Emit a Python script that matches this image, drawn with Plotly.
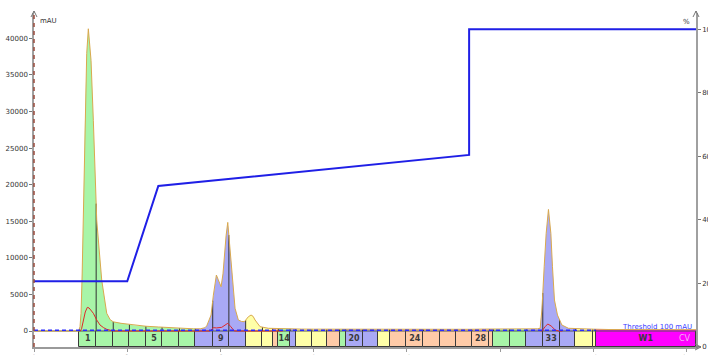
import numpy as np
import plotly.graph_objects as go

# ---- UV trace (mAU) vs column volumes ----
chrom_t = [0.0, 1.40, 1.44, 1.48, 1.513, 1.545, 1.587, 1.641, 1.696, 1.748, 1.79, 1.835,
           1.909, 2.018, 2.179, 2.34, 2.45, 2.552, 2.8, 3.0, 3.2, 3.6, 4.0, 4.27, 4.6,
           5.0, 5.13, 5.35, 5.50, 5.558, 5.62, 5.697, 5.771, 5.82, 5.868, 5.93, 6.019,
           6.08, 6.125, 6.18, 6.234, 6.308, 6.382, 6.469, 6.575, 6.68, 6.769, 6.83,
           6.897, 6.984, 7.05, 7.113, 7.274, 7.541, 7.8, 8.2, 8.6, 9.0, 9.5, 10.0, 10.5,
           11.0, 11.5, 12.0, 12.5, 13.0, 13.5, 14.0, 14.5, 15.0, 15.5, 16.0, 16.2,
           16.286, 16.341, 16.415, 16.479, 16.553, 16.630, 16.682, 16.746, 16.843,
           16.984, 17.197, 17.5, 18.0, 18.5, 19.5, 20.5, 21.3]
chrom_mau = [0, 0, 0, 600, 2420, 6960, 15150, 28800, 37900, 41300, 39500, 37000,
             28800, 15150, 6960, 2420, 1550, 1250, 1050, 950, 800, 650, 550, 470, 400,
             330, 300, 300, 450, 700, 1300, 2180, 4900, 6600, 7650, 7000, 6050,
             7800, 10380, 13000, 14840, 11290, 6730, 3100, 1500, 1300, 1270, 1600,
             1950, 2180, 2000, 1500, 590, 370, 330, 300, 260, 250, 240, 260, 230,
             250, 240, 230, 250, 230, 240, 230, 260, 250, 240, 250, 300,
             370, 2870, 8780, 13340, 16610, 13340, 8780, 4230, 2180,
             820, 370, 300, 250, 200, 180, 180, 180]

# second wavelength trace (mAU)
red_t = [1.46, 1.49, 1.53, 1.587, 1.65, 1.716, 1.77, 1.825, 1.909, 2.018, 2.124, 2.24,
         2.34, 2.55, 5.60, 5.665, 5.771, 5.87, 6.04, 6.14, 6.234, 6.33, 6.447, 8.0,
         None, 16.30, 16.341, 16.447, 16.53, 16.64, 16.77, 16.875, 17.0]
red_mau = [0, 0, 300, 1370, 2600, 3230, 3150, 2870, 2420, 1500, 820, 450,
           230, 0, 0, 0, 460, 420, 500, 750, 1050, 600, 0, 0,
           None, 0, 0, 590, 960, 680, 140, 0, 0]

# ---- solvent gradient (%B) ----
grad_t = [0.0, 3.0, 4.0, 14.0, 14.0, 21.3]
grad_pct = [20.6, 20.6, 50.6, 60.4, 100, 100]

# ---- collected fractions ----
frac_edges = [1.46, 2.00, 2.55, 3.07, 3.60, 4.12, 4.68, 5.19, 5.75, 6.27, 6.81, 7.35,
              7.68, 7.86, 8.24, 8.42, 8.94, 9.42, 9.83, 10.03, 10.57, 11.06, 11.44,
              11.97, 12.53, 13.07, 13.58, 14.09, 14.65, 14.78, 15.30, 15.84, 16.37,
              16.91, 17.42, 17.98, 18.07, 21.30]
frac_names = [str(i) for i in range(1, 37)] + ["W1"]
frac_rack = (["G"] * 7 + ["B"] * 3 + ["Y"] * 2 + ["S"] + ["G"] + ["B"] + ["Y"] * 2
             + ["S"] + ["G"] + ["B"] * 2 + ["Y"] + ["S"] * 7 + ["G"] * 2 + ["B"] * 3
             + ["Y"] * 2 + ["M"])
shown_labels = ["1", "5", "9", "14", "20", "24", "28", "33", "W1"]

threshold_mau = 100
threshold_end = 18.07

# ---- styling ----
rack_color = {"G": "#a8f5a8", "B": "#a9a9f5", "Y": "#ffffa8", "S": "#ffcba8", "M": "#ff00ff"}
Y_MIN, Y_MAX = -2187, 43457
Y2_MIN, Y2_MAX = -0.1, 105.1
X_MAX = 21.3
FONT = "DejaVu Sans"

L, R, T, B = 34, 12, 13, 8
W, H = 708, 355
PW, PH = W - L - R, H - T - B


def px_x(p):
    return (p - L) / PW


def px_y(p):
    return (H - B - p) / PH


t = np.array(chrom_t, dtype=float)
a = np.array(chrom_mau, dtype=float)

fig = go.Figure()

# filled peak areas, coloured by the fraction that collected them
edges = np.array(frac_edges)
for key, color in rack_color.items():
    xs, ys = [], []
    for i, rk in enumerate(frac_rack):
        if rk != key:
            continue
        x0, x1 = edges[i], edges[i + 1]
        inner = t[(t > x0) & (t < x1)]
        seg_x = [x0, *inner, x1]
        seg_y = list(np.interp(seg_x, t, a))
        xs += seg_x + [x1, x0, None]
        ys += seg_y + [0, 0, None]
    fig.add_trace(go.Scatter(x=xs, y=ys, mode="lines", fill="toself", fillcolor=color,
                             line=dict(width=0), hoverinfo="skip"))

# fraction tubes along the bottom
centers = (edges[:-1] + edges[1:]) / 2
widths = edges[1:] - edges[:-1]
fig.add_trace(go.Bar(x=centers, y=[-Y_MIN] * len(centers), base=Y_MIN, width=widths,
                     marker=dict(color=[rack_color[k] for k in frac_rack],
                                 line=dict(color="#3a3a3a", width=1)),
                     hoverinfo="skip"))

# baseline
fig.add_trace(go.Scatter(x=[0, X_MAX], y=[0, 0], mode="lines",
                         line=dict(color="#555555", width=1), hoverinfo="skip"))

# fraction cut lines up to the trace
vx, vy = [], []
for e in edges[:-1]:
    vx += [e, e, None]
    vy += [0, float(np.interp(e, t, a)), None]
fig.add_trace(go.Scatter(x=vx, y=vy, mode="lines", line=dict(color="#333333", width=1),
                         hoverinfo="skip"))

# UV outline
fig.add_trace(go.Scatter(x=chrom_t, y=chrom_mau, mode="lines",
                         line=dict(color="#d9a94e", width=1), hoverinfo="skip"))

# second wavelength
fig.add_trace(go.Scatter(x=red_t, y=red_mau, mode="lines", connectgaps=False,
                         line=dict(color="#e02828", width=1), hoverinfo="skip"))

# collection threshold
fig.add_trace(go.Scatter(x=[0, threshold_end], y=[threshold_mau, threshold_mau], mode="lines",
                         line=dict(color="#2a2aff", width=1.5, dash="4px,3px"),
                         hoverinfo="skip"))

# fraction labels
lab_x = [centers[frac_names.index(n)] for n in shown_labels]
fig.add_trace(go.Scatter(x=lab_x, y=[Y_MIN / 2] * len(lab_x), mode="text",
                         text=[f"<b>{s}</b>" for s in shown_labels],
                         textfont=dict(family=FONT, size=8, color="#3a3a3a"),
                         hoverinfo="skip"))

# gradient on the right axis
fig.add_trace(go.Scatter(x=grad_t, y=grad_pct, yaxis="y2", mode="lines",
                         line=dict(color="#1f1fe6", width=2), hoverinfo="skip"))

tickfont = dict(family=FONT, size=7, color="#333333")
fig.update_layout(
    width=W, height=H, autosize=False,
    margin=dict(l=L, r=R, t=T, b=B, pad=0),
    paper_bgcolor="white", plot_bgcolor="white",
    showlegend=False, bargap=0,
    xaxis=dict(range=[0, X_MAX], showgrid=False, zeroline=False, showline=True,
               linecolor="#9a9a9a", linewidth=2, ticks="outside", ticklen=3,
               tickcolor="#9a9a9a", tickvals=list(range(0, 22, 3)), tickfont=tickfont,
               automargin=False),
    yaxis=dict(range=[Y_MIN, Y_MAX], showgrid=False, zeroline=False, showline=True,
               linecolor="#a0a0a0", linewidth=1.5, ticks="outside", ticklen=3,
               tickcolor="#777777", tickvals=list(range(0, 40001, 5000)),
               tickformat="d", tickfont=tickfont, automargin=False),
    yaxis2=dict(range=[Y2_MIN, Y2_MAX], overlaying="y", side="right", showgrid=False,
                zeroline=False, showline=True, linecolor="#a0a0a0", linewidth=1.5,
                ticks="outside", ticklen=3, tickcolor="#777777",
                tickvals=list(range(0, 101, 20)), tickfont=tickfont, automargin=False),
)

# axis arrows and the dashed trace colour on the left axis
arrow = dict(color="#777777", width=1)
shapes = [
    dict(type="line", xref="paper", yref="paper", x0=0, x1=0, y0=0, y1=1,
         line=dict(color="#9a4b3c", width=1.5, dash="4px,4px")),
    dict(type="path", xref="paper", yref="paper", line=arrow,
         path=f"M {px_x(31)} {px_y(17)} L {px_x(34)} {px_y(11)} L {px_x(37)} {px_y(17)}"),
    dict(type="line", xref="paper", yref="paper", x0=0, x1=0, y0=1, y1=px_y(11),
         line=arrow),
    dict(type="path", xref="paper", yref="paper", line=arrow,
         path=f"M {px_x(693)} {px_y(17)} L {px_x(696)} {px_y(11)} L {px_x(699)} {px_y(17)}"),
    dict(type="line", xref="paper", yref="paper", x0=1, x1=1, y0=1, y1=px_y(11),
         line=arrow),
    dict(type="line", xref="paper", yref="paper", x0=1, x1=px_x(701), y0=0, y1=0,
         line=dict(color="#777777", width=1.5)),
    dict(type="path", xref="paper", yref="paper", line=arrow,
         path=f"M {px_x(695)} {px_y(344)} L {px_x(701)} {px_y(347)} L {px_x(695)} {px_y(350)}"),
]
fig.update_layout(shapes=shapes)

fig.add_annotation(xref="paper", yref="paper", x=px_x(38), y=px_y(21), text="mAU",
                   showarrow=False, xanchor="left", yanchor="middle",
                   font=dict(family=FONT, size=7, color="#333333"))
fig.add_annotation(xref="paper", yref="paper", x=px_x(692), y=px_y(22), text="%",
                   showarrow=False, xanchor="right", yanchor="middle",
                   font=dict(family=FONT, size=7, color="#333333"))
fig.add_annotation(xref="paper", yref="paper", x=px_x(694), y=px_y(327),
                   text=f"Threshold {threshold_mau} mAU", showarrow=False,
                   xanchor="right", yanchor="middle",
                   font=dict(family=FONT, size=7, color="#3a3aff"))
fig.add_annotation(xref="paper", yref="paper", x=px_x(693), y=px_y(338), text="CV",
                   showarrow=False, xanchor="right", yanchor="middle",
                   font=dict(family=FONT, size=8, color="#f2b6f2"))

fig.write_html("out.html")
